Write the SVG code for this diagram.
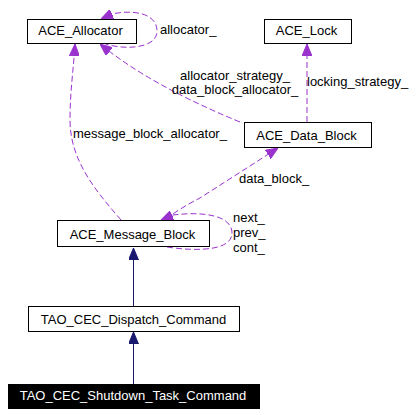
<svg xmlns="http://www.w3.org/2000/svg" width="417" height="415" viewBox="0 0 417 415">
<style>
.box{fill:#fff;stroke:#000;stroke-width:1}
.sel{fill:#000;stroke:#000;stroke-width:1}
.t{font-family:"Liberation Sans",Arial,sans-serif;font-size:13px;fill:#000}
.tw{font-family:"Liberation Sans",Arial,sans-serif;font-size:13px;fill:#fff}
.inh{fill:none;stroke:#191970;stroke-width:1;marker-end:url(#ah-navy)}
.use{fill:none;stroke:#9a32cd;stroke-width:1;stroke-dasharray:6,3;marker-end:url(#ah-purple)}
</style>
<defs>
<marker id="ah-navy" viewBox="0 0 12 10" refX="12" refY="5" markerWidth="12" markerHeight="10" markerUnits="userSpaceOnUse" orient="auto">
<path d="M0,0 L12,5 L0,10 z" fill="#191970" stroke="#191970" stroke-width="1"/>
</marker>
<marker id="ah-purple" viewBox="0 0 12 10" refX="12" refY="5" markerWidth="12" markerHeight="10" markerUnits="userSpaceOnUse" orient="auto">
<path d="M0,0 L12,5 L0,10 z" fill="#9a32cd" stroke="#9a32cd" stroke-width="1"/>
</marker>
</defs>
<rect width="417" height="415" fill="#fff"/>
<g id="connectors">
<path class="inh" d="M133.5,384 L133.5,332"/>
<path class="inh" d="M133.5,306 L133.5,248"/>
<path class="use" d="M307,122 L307,44"/>
<path class="use" d="M240,122 Q150,85 100,44"/>
<path class="use" d="M121,220 C95,190 70,160 70,120 C70,90 74,65 75,44"/>
<path class="use" d="M166,219 C175,212 188,204 200,198 L278,148"/>
<path class="use" d="M103,43 C120,50 157,50 157,31 C157,14 135,9 112,14 L101,19"/>
<path class="use" d="M167,247 C200,252 232,250 232,233 C232,216 205,211 173,215 L161,220"/>
<text class="t" x="160" y="34">allocator_</text>
<text class="t" x="235" y="80" text-anchor="middle">allocator_strategy_</text>
<text class="t" x="235" y="94" text-anchor="middle">data_block_allocator_</text>
<text class="t" x="307" y="86">locking_strategy_</text>
<text class="t" x="73" y="138">message_block_allocator_</text>
<text class="t" x="239" y="183">data_block_</text>
<text class="t" x="233" y="222">next_</text>
<text class="t" x="233" y="237">prev_</text>
<text class="t" x="233" y="252">cont_</text>
</g>
<g id="ACE_Allocator">
<rect class="box" x="27.5" y="19.5" width="109" height="24"/>
<text class="t" x="80.5" y="35" text-anchor="middle">ACE_Allocator</text>
</g>
<g id="ACE_Lock">
<rect class="box" x="264.5" y="19.5" width="87" height="24"/>
<text class="t" x="306.5" y="35" text-anchor="middle">ACE_Lock</text>
</g>
<g id="ACE_Data_Block">
<rect class="box" x="244.5" y="122.5" width="127" height="25"/>
<text class="t" x="306.5" y="139.5" text-anchor="middle">ACE_Data_Block</text>
</g>
<g id="ACE_Message_Block">
<rect class="box" x="57.5" y="220.5" width="152" height="26"/>
<text class="t" x="132.5" y="238.5" text-anchor="middle">ACE_Message_Block</text>
</g>
<g id="TAO_CEC_Dispatch_Command">
<rect class="box" x="28.5" y="306.5" width="211" height="25"/>
<text class="t" x="133.5" y="323.5" text-anchor="middle">TAO_CEC_Dispatch_Command</text>
</g>
<g id="TAO_CEC_Shutdown_Task_Command">
<rect class="sel" x="8.5" y="384.5" width="251" height="24"/>
<text class="tw" x="133" y="400" text-anchor="middle">TAO_CEC_Shutdown_Task_Command</text>
</g>
</svg>
